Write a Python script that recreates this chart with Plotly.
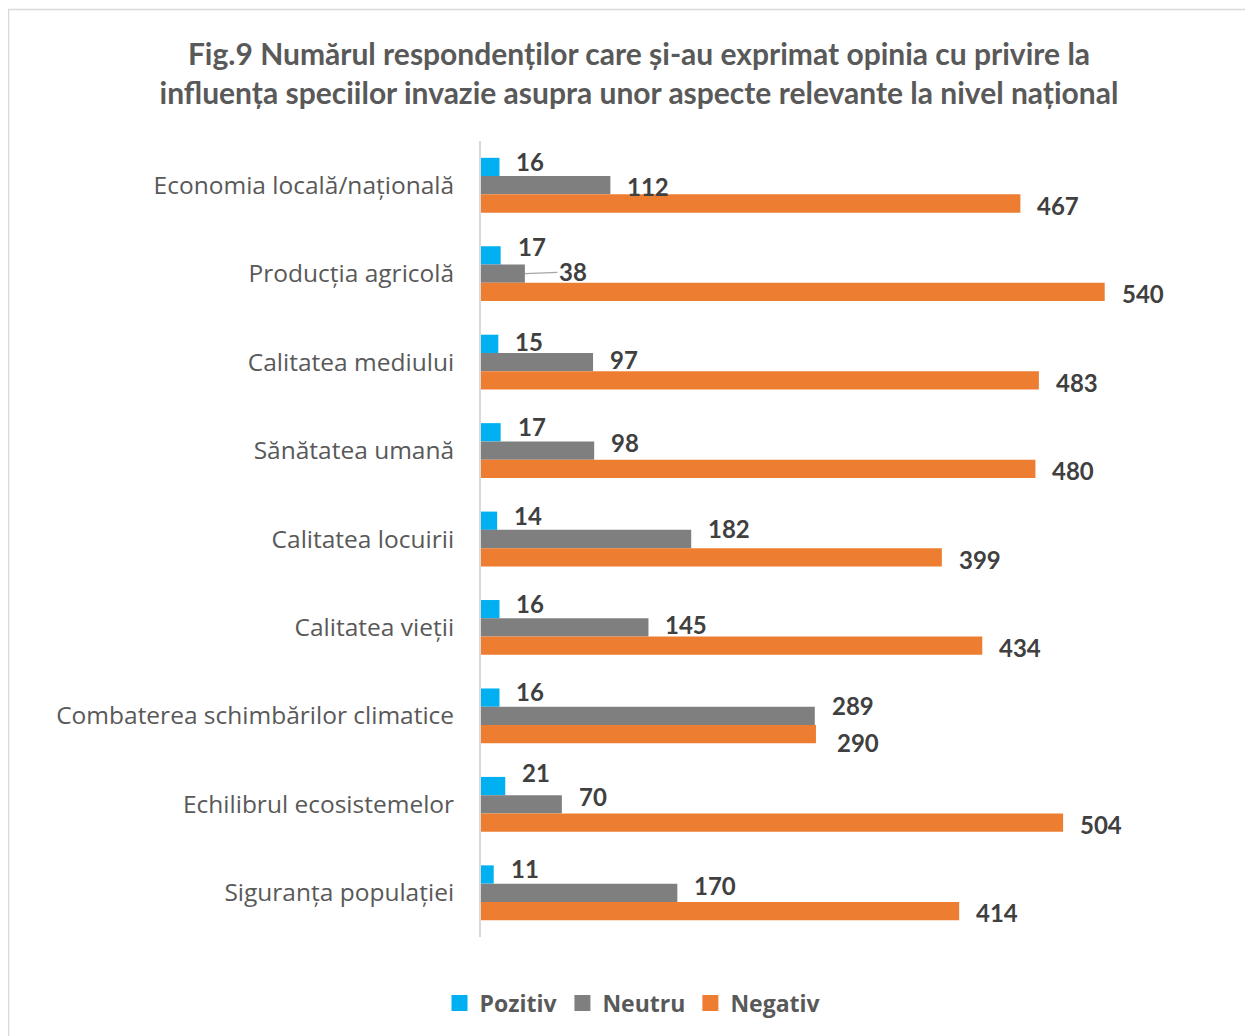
import plotly.graph_objects as go

categories = [
    "Economia locală/națională",
    "Producția agricolă",
    "Calitatea mediului",
    "Sănătatea umană",
    "Calitatea locuirii",
    "Calitatea vieții",
    "Combaterea schimbărilor climatice",
    "Echilibrul ecosistemelor",
    "Siguranța populației",
]
pozitiv = [16, 17, 15, 17, 14, 16, 16, 21, 11]
neutru = [112, 38, 97, 98, 182, 145, 289, 70, 170]
negativ = [467, 540, 483, 480, 399, 434, 290, 504, 414]

series = [
    ("Pozitiv", pozitiv, "#00B0F0", 24),
    ("Neutru", neutru, "#7F7F7F", 3),
    ("Negativ", negativ, "#ED7D31", -20),
]

# small manual label nudges (pixels, positive = up), as in the source chart
label_nudge = {
    ("Pozitiv", 1): 3, ("Pozitiv", 2): -3, ("Pozitiv", 7): 8,
    ("Neutru", 0): -4, ("Neutru", 3): 5, ("Neutru", 4): 8, ("Neutru", 6): 7,
    ("Neutru", 7): 5, ("Neutru", 8): 4,
    ("Negativ", 6): -7,
}

# page body has an 8px margin: the figure starts at (8, 8) on the page
OFF = 8
W, H = 1253 - OFF, 1036 - OFF
L, R, T, B = 481 - OFF, 79, 141 - OFF, 99
TITLE_FONT = "Lato"
TEXT_FONT = "Open Sans"

fig = go.Figure()
annotations = []
for name, vals, color, yshift in series:
    fig.add_trace(go.Bar(
        y=categories, x=vals, name=name, orientation="h",
        marker=dict(color=color, line=dict(width=0)),
        showlegend=False, hoverinfo="x+y+name",
    ))
    for i, (cat, v) in enumerate(zip(categories, vals)):
        if name == "Neutru" and cat == "Producția agricolă":
            annotations.append(dict(
                x=v, y=cat, xref="x", yref="y", text=f"<b>{v}</b>",
                showarrow=True, arrowhead=0, arrowwidth=1.2, arrowcolor="#A6A6A6",
                ax=48, ay=-2, standoff=0,
                font=dict(family=TITLE_FONT, size=24, color="#404040"),
            ))
        else:
            annotations.append(dict(
                x=v, y=cat, xref="x", yref="y", text=f"<b>{v}</b>",
                showarrow=False, xanchor="left",
                xshift=19 if (name, i) == ("Negativ", 6) else 15,
                yshift=yshift + label_nudge.get((name, i), 0),
                font=dict(family=TITLE_FONT, size=24, color="#404040"),
            ))

for name, vals, color, _ in series:
    fig.add_trace(go.Scatter(
        x=[None], y=[None], mode="markers", name=name,
        marker=dict(symbol="square", size=16, color=color),
        showlegend=True,
    ))

fig.update_layout(
    width=W, height=H,
    margin=dict(l=L, r=R, t=T, b=B),
    paper_bgcolor="white", plot_bgcolor="white",
    barmode="group", bargap=0.38, bargroupgap=0,
    font=dict(family=TEXT_FONT, color="#595959"),
    title=dict(
        text="<b>Fig.9 Numărul respondenților care și-au exprimat opinia cu privire la<br>"
             "influența speciilor invazie asupra unor aspecte relevante la nivel național</b>",
        font=dict(family=TITLE_FONT, size=30, color="#595959"),
        x=(639 - OFF) / W, xanchor="center", xref="container",
        y=1 - 57 / H, yanchor="top", yref="container",
    ),
    xaxis=dict(range=[0, 600], showgrid=False, showticklabels=False, zeroline=False,
               showline=False, ticks=""),
    yaxis=dict(autorange="reversed", showgrid=False, zeroline=False,
               showline=True, linecolor="#D9D9D9", linewidth=2, ticks="",
               ticklabelstandoff=20,
               tickfont=dict(family=TEXT_FONT, size=24.5, color="#595959")),
    legend=dict(orientation="h", xref="container", yref="container",
                x=(633 - OFF) / W, xanchor="center", y=1 - (1003 - OFF) / H, yanchor="middle",
                font=dict(family=TEXT_FONT, size=23, color="#595959", weight="bold"),
                itemwidth=30, traceorder="normal"),
    annotations=annotations,
    shapes=[dict(type="rect", xref="paper", yref="paper",
                 x0=(0.5 - L) / (W - L - R), x1=(W + 10 - L) / (W - L - R),
                 y0=(H - B - H - 10) / (H - T - B), y1=(H - B - 1.5) / (H - T - B),
                 line=dict(color="#D9D9D9", width=1.5), layer="below")],
)

fig.write_html("out.html")
